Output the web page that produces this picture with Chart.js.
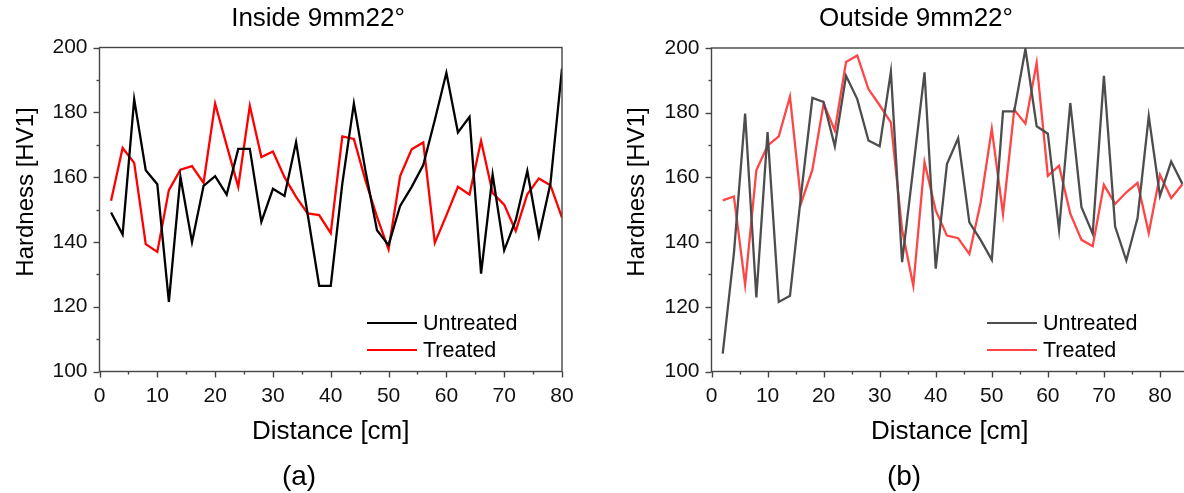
<!DOCTYPE html>
<html><head><meta charset="utf-8">
<script src="https://cdn.jsdelivr.net/npm/chart.js@4.4.1/dist/chart.umd.min.js"></script>
<style>
html,body{margin:0;padding:0;background:#fff;overflow:hidden;width:1184px;height:493px;}
#wa{position:absolute;left:0;top:0;width:600px;height:493px;}
#wb{position:absolute;left:600px;top:0;width:600px;height:493px;}
canvas{display:block;}
</style></head><body>
<div id="wa"><canvas id="ca" width="600" height="493"></canvas></div>
<div id="wb"><canvas id="cb" width="600" height="493"></canvas></div>
<script>
// ---- data ----
const distancesInside = [2,4,6,8,10,12,14,16,18,20,22,24,26,28,30,32,34,36,38,40,42,44,46,48,50,52,54,56,58,60,62,64,66,68,70,72,74,76,78,80];
const insideUntreated = [149.1,142.3,184,162.1,157.8,121.5,160.1,139.9,157.3,160.3,154.6,168.7,168.7,146.2,156.4,154.2,170.8,148.6,126.4,126.4,158,182.7,162,143.6,139,151.1,157,163.7,177.6,192.2,173.8,178.6,130.2,160.8,137.4,146.7,161.9,141.8,158,193.5];
const insideTreated = [152.7,169,164.4,139.3,136.9,156,162.3,163.4,158.2,182.7,169.8,157,182,166.2,167.9,160,153.9,148.8,148.3,142.7,172.6,171.8,159,147.7,137.7,160.3,168.6,170.7,139.7,148.2,157,154.6,171.2,155.1,151.5,143.4,154.7,159.6,157.5,147.5];
const distancesOutside = [2,4,6,8,10,12,14,16,18,20,22,24,26,28,30,32,34,36,38,40,42,44,46,48,50,52,54,56,58,60,62,64,66,68,70,72,74,76,78,80,82,84];
const outsideUntreated = [105.5,136.6,179.7,122.9,174,121.5,123.4,155,184.6,183.3,169.6,191.4,184.2,171.4,169.6,192.7,133.8,163,192.5,131.8,164.1,172.1,146.1,140.7,134.5,180.4,180.4,199.7,175.8,173.5,143.8,183,150.8,142.6,191.4,144.8,134.3,147.4,178.9,154.3,164.9,158];
const outsideTreated = [152.9,154.1,126.8,162.2,169.8,172.7,185,152.1,162.4,182.8,174.5,195.7,197.7,187.3,182.3,177,143.8,126.5,164.7,149.8,142,141.2,136.3,152.1,175,148.7,180.9,176.6,195.4,160.5,163.6,148.8,140.7,138.7,157.7,151.8,155.4,158.3,142.8,160.8,153.6,157.9];
const seriesLabels = ['Untreated','Treated'];
const yMin = 100, yMax = 200, yStep = 10, yMajor = 20;
const xStep = 5, xMajor = 10;

const FONT = "'Liberation Sans', Arial, sans-serif";
const AXIS_COLOR = '#454545';

function pts(xs, ys){ return xs.map((x,i)=>({x:x, y:ys[i]})); }

const framePlugin = {
  id: 'frame',
  afterDraw(chart, args, o) {
    const ctx = chart.ctx, a = chart.chartArea, xs = chart.scales.x, ys = chart.scales.y;
    ctx.save();
    ctx.strokeStyle = AXIS_COLOR; ctx.lineWidth = 1.4;
    ctx.strokeRect(a.left, a.top, a.right - a.left, a.bottom - a.top);
    ys.ticks.forEach(t => {
      const py = Math.round(ys.getPixelForValue(t.value)) + 0.5;
      const len = (t.value % yMajor === 0) ? 6 : 3;
      ctx.beginPath(); ctx.moveTo(a.left, py); ctx.lineTo(a.left - len, py); ctx.stroke();
    });
    xs.ticks.forEach(t => {
      const px = Math.round(xs.getPixelForValue(t.value)) + 0.5;
      const len = (t.value % xMajor === 0) ? 6 : 3;
      ctx.beginPath(); ctx.moveTo(px, a.bottom); ctx.lineTo(px, a.bottom + len); ctx.stroke();
    });
    ctx.fillStyle = '#000';
    ctx.textAlign = 'center'; ctx.textBaseline = 'middle';
    ctx.font = '26px ' + FONT;
    ctx.fillText(o.title, o.titleX, 19);
    ctx.fillText('Distance [cm]', (a.left + a.right) / 2 - o.xTitleShift, 432);
    ctx.font = '28px ' + FONT;
    ctx.fillText(o.caption, o.captionX, 477);
    ctx.save();
    ctx.translate(o.yTitleX, 192);
    ctx.rotate(-Math.PI / 2);
    ctx.font = '24px ' + FONT;
    ctx.fillText('Hardness [HV1]', 0, 0);
    ctx.restore();
    // legend
    ctx.font = '21.5px ' + FONT;
    ctx.textAlign = 'left';
    chart.data.datasets.forEach((ds, i) => {
      const ly = o.legendY + i * 27;
      ctx.strokeStyle = ds.borderColor; ctx.lineWidth = 2.2;
      ctx.beginPath(); ctx.moveTo(o.legendX, ly); ctx.lineTo(o.legendX + 50, ly); ctx.stroke();
      ctx.fillText(ds.label, o.legendX + 56, ly + 1);
    });
    ctx.restore();
  }
};

function makeChart(id, xs, u, t, colors, xMax, area, opts) {
  return new Chart(document.getElementById(id), {
    type: 'line',
    data: {
      datasets: [
        {label: seriesLabels[0], data: pts(xs, u), borderColor: colors[0], borderWidth: 2.3, pointRadius: 0, tension: 0},
        {label: seriesLabels[1], data: pts(xs, t), borderColor: colors[1], borderWidth: 2.3, pointRadius: 0, tension: 0}
      ]
    },
    options: {
      responsive: false, animation: false, devicePixelRatio: 1,
      layout: {padding: {top: area.top, right: 600 - area.right, bottom: 493 - area.bottom - 40, left: 0}},
      plugins: {legend: {display: false}, tooltip: {enabled: false}, frame: opts},
      scales: {
        x: {
          type: 'linear', min: 0, max: xMax,
          grid: {display: false}, border: {display: false},
          ticks: {stepSize: xStep, autoSkip: false, maxRotation: 0, padding: 4, color: '#111',
            font: {family: FONT, size: 21},
            callback: v => (v % xMajor === 0 ? String(v) : '')},
          afterFit: s => { s.height = 40; }
        },
        y: {
          min: yMin, max: yMax,
          grid: {display: false}, border: {display: false},
          ticks: {stepSize: yStep, padding: 4, color: '#111',
            font: {family: FONT, size: 21},
            callback: v => (v % yMajor === 0 ? String(v) : '')},
          afterFit: s => { s.width = area.left; }
        }
      }
    },
    plugins: [framePlugin]
  });
}

makeChart('ca', distancesInside, insideUntreated, insideTreated, ['#000000', '#ff0000'], 80,
  {left: 99.5, right: 562, top: 47.5, bottom: 371.5},
  {title: 'Inside 9mm22°', titleX: 318, caption: '(a)', captionX: 299, xTitleShift: 0, yTitleX: 26, legendX: 367, legendY: 323});
makeChart('cb', distancesOutside, outsideUntreated, outsideTreated, ['#4d4d4d', '#ff4545'], 85,
  {left: 111.5, right: 588, top: 48, bottom: 371.5},
  {title: 'Outside 9mm22°', titleX: 316, caption: '(b)', captionX: 304, xTitleShift: 0, yTitleX: 37, legendX: 387, legendY: 323});
</script>
</body></html>
